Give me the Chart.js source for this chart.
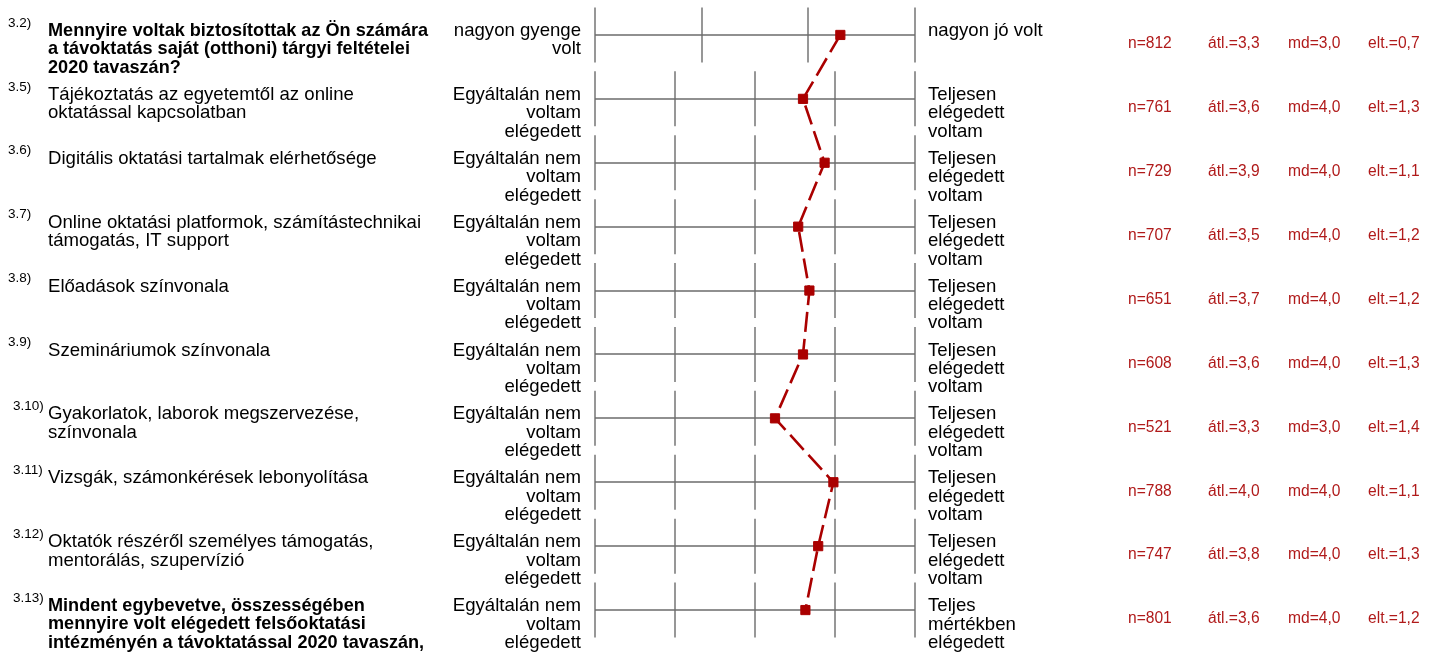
<!DOCTYPE html>
<html>
<head>
<meta charset="utf-8">
<script src="https://cdn.jsdelivr.net/npm/chart.js@4"></script>
<style>
    html, body { margin: 0; padding: 0; background: #fff; }
    #wrap { width: 1439px; height: 653px; position: relative; }
</style>
</head>
<body>
<div id="wrap"><canvas id="profileChart"></canvas></div>
<script>
// Item codes, question texts and scale anchors, one entry per row.
const itemCodes = ['3.2)', '3.5)', '3.6)', '3.7)', '3.8)', '3.9)', '3.10)', '3.11)', '3.12)', '3.13)'];
const itemLabels = [
    ['Mennyire voltak biztosítottak az Ön számára', 'a távoktatás saját (otthoni) tárgyi feltételei', '2020 tavaszán?'],
    ['Tájékoztatás az egyetemtől az online', 'oktatással kapcsolatban'],
    ['Digitális oktatási tartalmak elérhetősége'],
    ['Online oktatási platformok, számítástechnikai', 'támogatás, IT support'],
    ['Előadások színvonala'],
    ['Szemináriumok színvonala'],
    ['Gyakorlatok, laborok megszervezése,', 'színvonala'],
    ['Vizsgák, számonkérések lebonyolítása'],
    ['Oktatók részéről személyes támogatás,', 'mentorálás, szupervízió'],
    ['Mindent egybevetve, összességében', 'mennyire volt elégedett felsőoktatási', 'intézményén a távoktatással 2020 tavaszán,'],
];
const boldItems = [true, false, false, false, false, false, false, false, false, true];
const leftAnchors = [
    ['nagyon gyenge', 'volt'],
    ['Egyáltalán nem', 'voltam', 'elégedett'],
    ['Egyáltalán nem', 'voltam', 'elégedett'],
    ['Egyáltalán nem', 'voltam', 'elégedett'],
    ['Egyáltalán nem', 'voltam', 'elégedett'],
    ['Egyáltalán nem', 'voltam', 'elégedett'],
    ['Egyáltalán nem', 'voltam', 'elégedett'],
    ['Egyáltalán nem', 'voltam', 'elégedett'],
    ['Egyáltalán nem', 'voltam', 'elégedett'],
    ['Egyáltalán nem', 'voltam', 'elégedett'],
];
const rightAnchors = [
    ['nagyon jó volt'],
    ['Teljesen', 'elégedett', 'voltam'],
    ['Teljesen', 'elégedett', 'voltam'],
    ['Teljesen', 'elégedett', 'voltam'],
    ['Teljesen', 'elégedett', 'voltam'],
    ['Teljesen', 'elégedett', 'voltam'],
    ['Teljesen', 'elégedett', 'voltam'],
    ['Teljesen', 'elégedett', 'voltam'],
    ['Teljesen', 'elégedett', 'voltam'],
    ['Teljes', 'mértékben', 'elégedett'],
];

// Scale length of each item and the plotted means.
const scalePoints = [4, 5, 5, 5, 5, 5, 5, 5, 5, 5];
const meanValues = [3.3, 3.6, 3.87, 3.54, 3.68, 3.6, 3.25, 3.98, 3.79, 3.63];

// Summary statistics shown at the right.
const nValues = ['812', '761', '729', '707', '651', '608', '521', '788', '747', '801'];
const avgValues = ['3,3', '3,6', '3,9', '3,5', '3,7', '3,6', '3,3', '4,0', '3,8', '3,6'];
const mdValues = ['3,0', '4,0', '4,0', '4,0', '4,0', '4,0', '3,0', '4,0', '4,0', '4,0'];
const sdValues = ['0,7', '1,3', '1,1', '1,2', '1,2', '1,3', '1,4', '1,1', '1,3', '1,2'];

const FONT = '"Liberation Sans", Arial, sans-serif';
const GRID_COLOR = '#6c6c6c';
const MARK_COLOR = '#aa0000';
const STAT_COLOR = '#b01a1a';
const LINE_H = 18.4;

// Mean position as a fraction of each item's own scale.
const points = meanValues.map((m, i) => ({ x: (m - 1) / (scalePoints[i] - 1), y: i }));

const rowFramePlugin = {
    id: 'rowFrame',
    beforeDatasetsDraw(chart) {
        const { ctx, scales: { x, y } } = chart;
        ctx.save();
        ctx.strokeStyle = GRID_COLOR;
        ctx.lineWidth = 1.4;
        itemCodes.forEach((code, i) => {
            const cy = Math.round(y.getPixelForValue(i));
            const top = y.getPixelForValue(i - 0.43);
            const bottom = y.getPixelForValue(i + 0.43);
            ctx.beginPath();
            ctx.moveTo(x.getPixelForValue(0), cy);
            ctx.lineTo(x.getPixelForValue(1), cy);
            for (let k = 0; k < scalePoints[i]; k++) {
                const px = Math.round(x.getPixelForValue(k / (scalePoints[i] - 1)));
                ctx.moveTo(px, top);
                ctx.lineTo(px, bottom);
            }
            ctx.stroke();
        });
        ctx.restore();
    },
    afterDraw(chart) {
        const { ctx, scales: { x, y } } = chart;
        const leftEdge = x.getPixelForValue(0);
        const rightEdge = x.getPixelForValue(1);
        ctx.save();
        ctx.textBaseline = 'middle';
        itemCodes.forEach((code, i) => {
            const cy = y.getPixelForValue(i);
            const firstLine = cy - 4;

            ctx.fillStyle = '#000';
            ctx.textAlign = 'left';
            ctx.font = `13.5px ${FONT}`;
            ctx.fillText(code, code.length > 4 ? 13 : 8, firstLine - 8);

            ctx.font = boldItems[i] ? `bold 18.1px ${FONT}` : `18.6px ${FONT}`;
            itemLabels[i].forEach((line, j) => ctx.fillText(line, 48, firstLine + j * LINE_H));

            ctx.font = `18.6px ${FONT}`;
            ctx.textAlign = 'right';
            leftAnchors[i].forEach((line, j) => ctx.fillText(line, leftEdge - 14, firstLine + j * LINE_H));
            ctx.textAlign = 'left';
            rightAnchors[i].forEach((line, j) => ctx.fillText(line, rightEdge + 13, firstLine + j * LINE_H));

            ctx.fillStyle = STAT_COLOR;
            ctx.font = `15.6px ${FONT}`;
            const sy = cy + 9;
            ctx.fillText(`n=${nValues[i]}`, 1128, sy);
            ctx.fillText(`átl.=${avgValues[i]}`, 1208, sy);
            ctx.fillText(`md=${mdValues[i]}`, 1288, sy);
            ctx.fillText(`elt.=${sdValues[i]}`, 1368, sy);
        });
        ctx.restore();
    },
};

document.addEventListener('DOMContentLoaded', () => {
    const ctx = document.getElementById('profileChart');
    new Chart(ctx, {
        type: 'line',
        data: {
            datasets: [
                {
                    data: points,
                    borderColor: MARK_COLOR,
                    borderWidth: 2.6,
                    borderDash: [20, 7],
                    backgroundColor: MARK_COLOR,
                    pointStyle: 'rect',
                    pointRadius: 6.5,
                    pointBorderWidth: 1,
                    pointBorderColor: MARK_COLOR,
                    pointBackgroundColor: MARK_COLOR,
                    tension: 0,
                    fill: false,
                    clip: false,
                },
            ],
        },
        options: {
            responsive: true,
            maintainAspectRatio: false,
            animation: false,
            layout: { autoPadding: false, padding: { left: 595, right: 524, top: 3, bottom: 11 } },
            plugins: { legend: { display: false }, tooltip: { enabled: false } },
            scales: {
                x: { type: 'linear', min: 0, max: 1, display: false },
                y: { type: 'linear', min: -0.5, max: 9.5, reverse: true, display: false },
            },
        },
        plugins: [rowFramePlugin],
    });
});
</script>
</body>
</html>
